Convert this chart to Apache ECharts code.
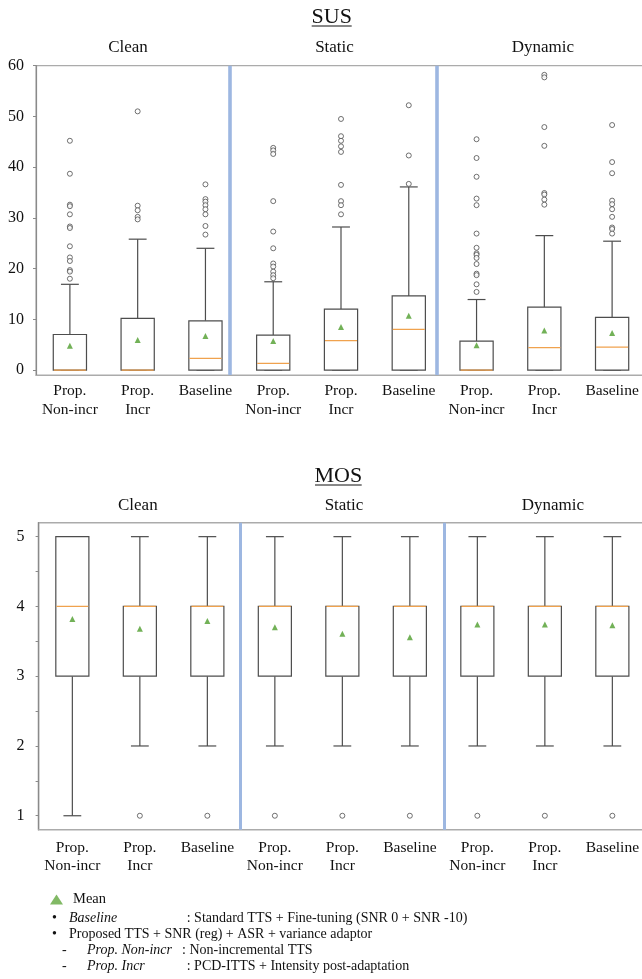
<!DOCTYPE html>
<html>
<head>
<meta charset="utf-8">
<script src="https://cdn.jsdelivr.net/npm/echarts@6/dist/echarts.min.js"></script>
<style>
  html, body { margin: 0; padding: 0; background: #ffffff; }
  #chart { width: 642px; height: 979px; }
</style>
</head>
<body>
<div id="chart"></div>
<script>
// ---- data -------------------------------------------------------------
const conditions = ['Clean', 'Static', 'Dynamic'];
const systems = ['Prop.\nNon-incr', 'Prop.\nIncr', 'Baseline'];
const categories = conditions.flatMap(() => systems);

// SUS: [lower whisker, Q1, median, Q3, upper whisker] per category
const susBoxes = [
  [0, 0, 0,   7.0,  16.9],
  [0, 0, 0,   10.2, 25.8],
  [0, 0, 2.3, 9.7,  24.0],
  [0, 0, 1.3, 6.9,  17.4],
  [0, 0, 5.8, 12.0, 28.2],
  [0, 0, 8.0, 14.6, 36.1],
  [0, 0, 0,   5.7,  13.9],
  [0, 0, 4.4, 12.4, 26.5],
  [0, 0, 4.5, 10.4, 25.4]
];
const susMeans = [4.8, 5.9, 6.7, 5.7, 8.5, 10.7, 4.9, 7.8, 7.3];
const susOutliers = [
  [45.2, 38.7, 32.6, 32.3, 30.7, 28.3, 28.0, 24.4, 22.2, 21.5, 19.7, 19.4, 18.0],
  [51.0, 32.4, 31.5, 30.2, 29.7],
  [36.6, 33.7, 33.2, 32.5, 31.7, 30.7, 28.4, 26.7],
  [43.8, 43.3, 42.6, 33.3, 27.3, 24.0, 21.0, 20.4, 19.4, 18.7, 18.1],
  [49.5, 46.1, 45.2, 44.1, 43.0, 36.5, 33.3, 32.5, 30.7],
  [52.2, 42.3, 36.7],
  [45.5, 41.8, 38.1, 33.8, 32.5, 26.9, 24.1, 23.0, 22.7, 22.1, 20.9, 19.0, 18.7, 16.9, 15.4],
  [58.2, 57.7, 47.9, 44.2, 34.9, 34.6, 33.6, 32.6],
  [48.3, 41.0, 38.8, 33.4, 32.7, 31.7, 30.2, 28.1, 27.8, 26.9]
];
const susTicks = [0, 10, 20, 30, 40, 50, 60];

// MOS
const mosBoxes = [
  [1, 3, 4, 5, 5],
  [2, 3, 4, 4, 5],
  [2, 3, 4, 4, 5],
  [2, 3, 4, 4, 5],
  [2, 3, 4, 4, 5],
  [2, 3, 4, 4, 5],
  [2, 3, 4, 4, 5],
  [2, 3, 4, 4, 5],
  [2, 3, 4, 4, 5]
];
const mosMeans = [3.82, 3.68, 3.79, 3.70, 3.61, 3.56, 3.74, 3.74, 3.73];
const mosOutliers = [[], [1], [1], [1], [1], [1], [1], [1], [1]];
const mosTicks = [1, 2, 3, 4, 5];
const mosMinorTicks = [1, 1.5, 2, 2.5, 3, 3.5, 4, 4.5, 5];

// group dividers, in category-index units
const susDividers = [2.36, 5.41];
const mosDividers = [2.48, 5.51];

// ---- styling ----------------------------------------------------------
const SERIF = '"Liberation Serif", "Times New Roman", serif';
const BOX_STROKE = '#4d4d4d';
const MEDIAN = '#f0a24e';
const MEAN = '#4f9d2d';
const DIVIDER = '#9db7e1';
const FRAME = '#ababab';

function renderBox(params, api) {
  const i = api.value(0);
  const lo = api.coord([i, api.value(1)]);
  const q1 = api.coord([i, api.value(2)]);
  const md = api.coord([i, api.value(3)]);
  const q3 = api.coord([i, api.value(4)]);
  const hi = api.coord([i, api.value(5)]);
  const band = api.size([1, 0])[0];
  const half = band * 0.245;
  const cap = band * 0.132;
  const x = lo[0];
  const s = { stroke: BOX_STROKE, lineWidth: 1.2, fill: null };
  return {
    type: 'group',
    children: [
      { type: 'line', shape: { x1: x, y1: hi[1], x2: x, y2: q3[1] }, style: s },
      { type: 'line', shape: { x1: x, y1: q1[1], x2: x, y2: lo[1] }, style: s },
      { type: 'line', shape: { x1: x - cap, y1: hi[1], x2: x + cap, y2: hi[1] }, style: s },
      { type: 'line', shape: { x1: x - cap, y1: lo[1], x2: x + cap, y2: lo[1] }, style: s },
      { type: 'rect', shape: { x: x - half, y: q3[1], width: half * 2, height: q1[1] - q3[1] },
        style: { stroke: BOX_STROKE, lineWidth: 1.2, fill: '#ffffff' } },
      { type: 'line', shape: { x1: x - half + 0.6, y1: md[1], x2: x + half - 0.6, y2: md[1] },
        style: { stroke: MEDIAN, lineWidth: 1.3 } }
    ]
  };
}

function boxData(boxes) { return boxes.map((b, i) => [i].concat(b)); }
function outlierData(list) {
  const out = [];
  list.forEach((vals, i) => vals.forEach(v => out.push([i, v])));
  return out;
}
function meanData(means) { return means.map((m, i) => [i, m]); }

function panelSeries(gridIdx, boxes, means, outliers, dividers, dividerWidth) {
  const xc = gridIdx * 2, xv = gridIdx * 2 + 1, y = gridIdx;
  return [
    {
      type: 'scatter', xAxisIndex: xv, yAxisIndex: y, data: [], silent: true,
      markLine: {
        silent: true, symbol: 'none', label: { show: false },
        lineStyle: { color: DIVIDER, width: dividerWidth, type: 'solid' },
        data: dividers.map(d => ({ xAxis: d }))
      }
    },
    {
      type: 'custom', xAxisIndex: xc, yAxisIndex: y,
      renderItem: renderBox,
      encode: { x: 0, y: [1, 2, 3, 4, 5] },
      data: boxData(boxes), z: 3
    },
    {
      type: 'scatter', xAxisIndex: xc, yAxisIndex: y,
      symbol: 'circle', symbolSize: 5,
      itemStyle: { color: '#ffffff', borderColor: '#4d4d4d', borderWidth: 1 },
      data: outlierData(outliers), z: 4
    },
    {
      name: 'Mean', type: 'scatter', xAxisIndex: xc, yAxisIndex: y,
      symbol: 'triangle', symbolSize: [6, 6],
      itemStyle: { color: MEAN },
      data: meanData(means), z: 5
    }
  ];
}

function catAxis(gridIdx, margin) {
  return {
    type: 'category', gridIndex: gridIdx, data: categories,
    axisLine: { onZero: false, lineStyle: { color: FRAME, width: 1.2 } },
    axisTick: { alignWithLabel: true, length: 3, lineStyle: { color: '#888' } },
    axisLabel: {
      interval: 0, margin: margin, color: '#111', fontFamily: SERIF,
      fontSize: 15.5, lineHeight: 18.4
    },
    splitLine: { show: false }
  };
}
function valAxisX(gridIdx) {
  return { type: 'value', gridIndex: gridIdx, min: -0.5, max: 8.5, show: false,
           axisLine: { onZero: false } };
}

const titleText = (text, x, y, size) => ({
  type: 'text', x: x, y: y,
  style: { text: text, fontFamily: SERIF, fontSize: size, fill: '#111',
           align: 'center', verticalAlign: 'middle' }
});
const underline = (x1, x2, y) => ({
  type: 'line', shape: { x1: x1, y1: y, x2: x2, y2: y },
  style: { stroke: '#111', lineWidth: 1 }
});
const note = (text, x, y, italic) => ({
  type: 'text', x: x, y: y,
  style: { text: text, fontFamily: SERIF, fontSize: 14, fill: '#111',
           fontStyle: italic ? 'italic' : 'normal',
           align: 'left', verticalAlign: 'middle' }
});

const option = {
  animation: false,
  backgroundColor: '#ffffff',
  grid: [
    { left: 36, top: 65.7, width: 610, height: 309.4, show: true,
      outerBoundsMode: 'none', containLabel: false,
      borderColor: FRAME, borderWidth: 1.2, backgroundColor: 'transparent' },
    { left: 38.6, top: 522.7, width: 607.5, height: 307, show: true,
      outerBoundsMode: 'none', containLabel: false,
      borderColor: FRAME, borderWidth: 1.6, backgroundColor: 'transparent' }
  ],
  xAxis: [catAxis(0, 7), valAxisX(0), catAxis(1, 9), valAxisX(1)],
  yAxis: [
    {
      type: 'value', gridIndex: 0, min: -1, max: 60,
      axisLine: { show: true, onZero: false, lineStyle: { color: '#8a8a8a', width: 1.2 } },
      axisTick: { show: true, length: 3, customValues: susTicks, lineStyle: { color: '#8a8a8a' } },
      axisLabel: { customValues: susTicks, margin: 12, color: '#111', fontFamily: SERIF, fontSize: 16 },
      splitLine: { show: false }
    },
    {
      type: 'value', gridIndex: 1, min: 0.8, max: 5.2,
      axisLine: { show: true, onZero: false, lineStyle: { color: '#8a8a8a', width: 1.2 } },
      axisTick: { show: true, length: 3, customValues: mosMinorTicks, lineStyle: { color: '#8a8a8a' } },
      axisLabel: { customValues: mosTicks, margin: 14, color: '#111', fontFamily: SERIF, fontSize: 16 },
      splitLine: { show: false }
    }
  ],
  legend: {
    data: [{ name: 'Mean', icon: 'triangle', itemStyle: { color: '#62a83f' } }],
    left: 50, top: 892, padding: 0,
    itemWidth: 13, itemHeight: 10,
    textStyle: { fontFamily: SERIF, fontSize: 14.5, color: '#111', padding: [0, 0, 0, 5] },
    selectedMode: false
  },
  graphic: [
    titleText('SUS', 331.7, 17, 22),
    underline(311.7, 351.7, 26),
    titleText('Clean', 128, 48, 17),
    titleText('Static', 334.5, 48, 17),
    titleText('Dynamic', 542.8, 48, 17),
    titleText('MOS', 338.3, 476.5, 22),
    underline(315, 361.7, 485),
    titleText('Clean', 137.8, 505.3, 17),
    titleText('Static', 344, 505.3, 17),
    titleText('Dynamic', 552.8, 505.3, 17),
    note('\u2022', 52, 918), note('Baseline', 69, 918, true),
    note(': Standard TTS + Fine-tuning (SNR 0 + SNR -10)', 186.7, 918),
    note('\u2022', 52, 934), note('Proposed TTS + SNR (reg) + ASR + variance adaptor', 69, 934),
    note('-', 62, 950), note('Prop. Non-incr', 87, 950, true),
    note(': Non-incremental TTS', 182, 950),
    note('-', 62, 966), note('Prop. Incr', 87, 966, true),
    note(': PCD-ITTS + Intensity post-adaptation', 186.7, 966)
  ],
  series: []
    .concat(panelSeries(0, susBoxes, susMeans, susOutliers, susDividers, 3.6))
    .concat(panelSeries(1, mosBoxes, mosMeans, mosOutliers, mosDividers, 3))
};

const chart = echarts.init(document.getElementById('chart'), null, { renderer: 'canvas' });
chart.setOption(option);
</script>
</body>
</html>
